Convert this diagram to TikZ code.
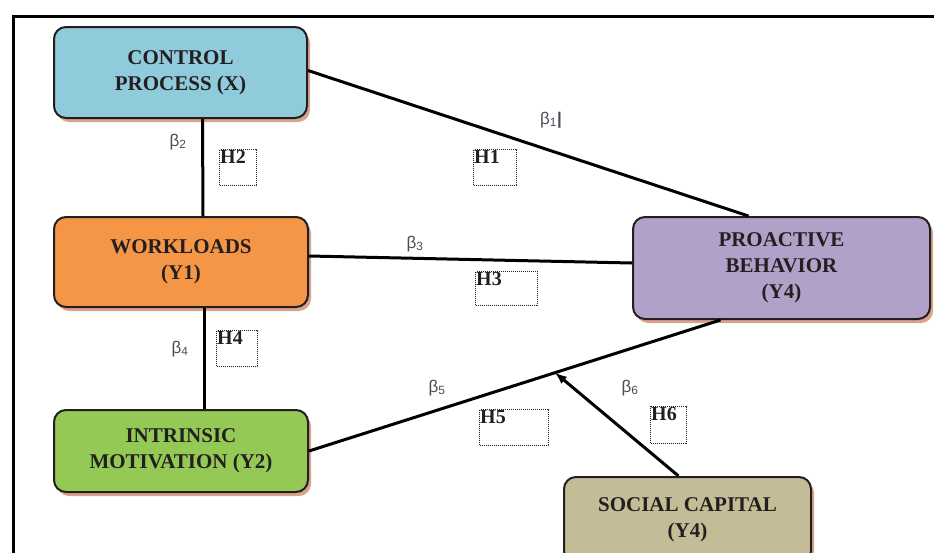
\documentclass[tikz,border=0pt]{standalone}
\usepackage{fontspec}
\setmainfont{Liberation Serif}
\newfontfamily\betafont{Liberation Sans}
\usetikzlibrary{shapes,shadows}
\definecolor{ctrlblue}{HTML}{8FCBDB}
\definecolor{workorange}{HTML}{F59646}
\definecolor{motgreen}{HTML}{93C954}
\definecolor{propurple}{HTML}{B1A0C7}
\definecolor{socbeige}{HTML}{C4BC96}
\definecolor{boxline}{HTML}{231F20}
\definecolor{shadowc}{HTML}{D8A48C}
\definecolor{betagray}{HTML}{4F4A58}
\tikzset{
  var/.style = {draw=boxline, line width=2pt, rounded corners=12pt, align=center,
    font=\fontsize{21}{26}\selectfont\bfseries, text=boxline,
    drop shadow={shadow xshift=3pt, shadow yshift=-4pt, fill=shadowc, opacity=1}},
  beta/.style = {font=\betafont\fontsize{17}{17}\selectfont, text=betagray, inner sep=0pt},
  hyp/.style = {draw=boxline, line width=1pt, dash pattern=on 1pt off 1pt,
    anchor=north west, inner sep=0pt},
  hlab/.style = {anchor=north west, inner sep=1pt,
    font=\fontsize{20}{20}\selectfont\bfseries, text=boxline},
  path/.style = {line width=3pt}
}
\begin{document}
\begin{tikzpicture}[x=1pt, y=-1pt]
  \useasboundingbox (0,0) rectangle (934,552);
  \draw[line width=3pt] (13,570) -- (13,16) -- (950,16);
  \node[var, fill=ctrlblue, minimum width=253pt, minimum height=91pt] at (180.5,72.5) (ctrl) {CONTROL\\PROCESS (X)};
  \node[var, fill=workorange, minimum width=254pt, minimum height=90pt] at (181,262) (work) {WORKLOADS\\(Y1)};
  \node[var, fill=motgreen, minimum width=254pt, minimum height=82pt] at (181,451) (mot) {INTRINSIC\\MOTIVATION (Y2)};
  \node[var, fill=propurple, minimum width=297pt, minimum height=102pt] at (781.5,268) (pro) {PROACTIVE\\BEHAVIOR\\(Y4)};
  \node[var, fill=socbeige, minimum width=247pt, minimum height=86pt] at (687.5,520) (soc) {SOCIAL CAPITAL\\(Y4)};
  \draw[path] ([xshift=22pt]ctrl.south) -- ([xshift=22pt]work.north);
  \draw[path] ([xshift=23pt]work.south) -- ([xshift=23pt]mot.north);
  \draw[path] ([yshift=2pt]ctrl.east) -- ([xshift=-33pt]pro.north);
  \draw[path] ([yshift=6pt]work.east) -- ([yshift=5pt]pro.west);
  \draw[path] (mot.east) -- coordinate[pos=.598] (m5) ([xshift=-61pt]pro.south);
  \draw[path, -latex] ([xshift=-9pt]soc.north) -- (m5);
  \node[beta] at (551,120) (b1) {β\textsubscript{1}\textbf{|}};
  \node[beta] at (178,142) (b2) {β\textsubscript{2}};
  \node[beta] at (415,244) (b3) {β\textsubscript{3}};
  \node[beta] at (180,349) (b4) {β\textsubscript{4}};
  \node[beta] at (437,388) (b5) {β\textsubscript{5}};
  \node[beta] at (630,388) (b6) {β\textsubscript{6}};
  \node[hyp, minimum width=43pt, minimum height=36pt, label={[hlab]north west:H1}] at (473,149) (h1) {};
  \node[hyp, minimum width=37pt, minimum height=36pt, label={[hlab]north west:H2}] at (219,149) (h2) {};
  \node[hyp, minimum width=62pt, minimum height=34pt, label={[hlab]north west:H3}] at (475,271) (h3) {};
  \node[hyp, minimum width=41pt, minimum height=36pt, label={[hlab]north west:H4}] at (216,330) (h4) {};
  \node[hyp, minimum width=69pt, minimum height=36pt, label={[hlab]north west:H5}] at (479,409) (h5) {};
  \node[hyp, minimum width=36pt, minimum height=37pt, label={[hlab]north west:H6}] at (650,406) (h6) {};
\end{tikzpicture}
\end{document}
